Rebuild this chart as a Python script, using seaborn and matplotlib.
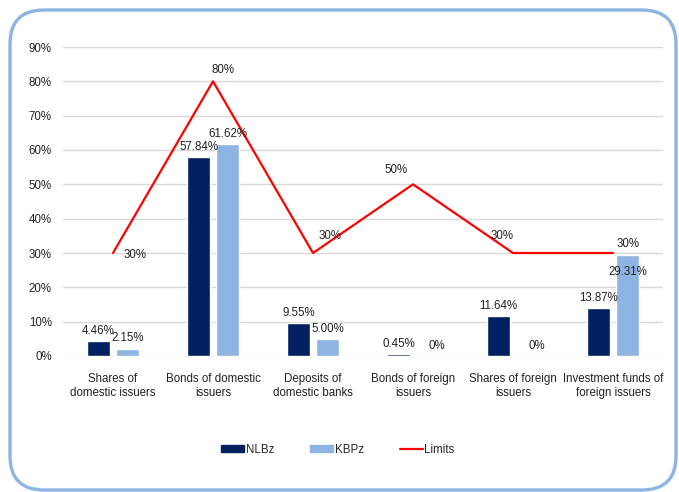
import pandas as pd
import numpy as np
import seaborn as sns
import matplotlib.pyplot as plt
from matplotlib.patches import FancyBboxPatch
from matplotlib.lines import Line2D
from matplotlib.patches import Patch


categories = ["Shares of\ndomestic issuers", "Bonds of domestic\nissuers", "Deposits of\ndomestic banks",
              "Bonds of foreign\nissuers", "Shares of foreign\nissuers", "Investment funds of\nforeign issuers"]
nlbz = [4.46, 57.84, 9.55, 0.45, 11.64, 13.87]
kbpz = [2.15, 61.62, 5.00, 0.0, 0.0, 29.31]
limits = [30, 80, 30, 50, 30, 30]
y_ticks = [0, 10, 20, 30, 40, 50, 60, 70, 80, 90]

sns.set_theme(style="white")
plt.rcParams['font.family'] = ['Liberation Sans', 'DejaVu Sans']

data = pd.DataFrame({
    "category": categories * 2,
    "fund": ["NLBz"] * 6 + ["KBPz"] * 6,
    "value": nlbz + kbpz,
})

fig = plt.figure(figsize=(6.79, 4.92), dpi=100)
ax = fig.add_axes([63 / 679, 1 - 356 / 492, 600 / 679, 309 / 492])

colors = {"NLBz": "#002060", "KBPz": "#8EB4E3"}
sns.barplot(data=data, x="category", y="value", hue="fund", palette=colors,
            width=0.58, gap=0.2, saturation=1, legend=False, ax=ax)

x = np.arange(len(categories))
sns.lineplot(x=x, y=limits, color="#FF0000", linewidth=1.6, ax=ax)

# bar value labels
for cont, vals in zip(ax.containers, [nlbz, kbpz]):
    labs = ax.bar_label(cont, labels=[f"{v:.2f}%" if v > 0 else "0%" for v in vals],
                        padding=3, fontsize=8.3, color="#222222")
    for lab, v in zip(labs, vals):
        if v == 0:
            lab.xyann = (7, 3)
    if vals is kbpz:
        labs[-1].xyann = (0, -16)

# limit labels
offsets = [(16, -6), (7, 4), (12, 8), (-12, 6), (-8, 8), (11, 2)]
for xi, v, off in zip(x, limits, offsets):
    ax.annotate(f"{v}%", (xi, v), xytext=off, textcoords="offset points",
                ha="center", va="bottom", fontsize=8.3, color="#222222")

ax.set_xlim(-0.5, 5.5)
ax.set_ylim(0, 90)
ax.set_yticks(y_ticks)
ax.set_yticklabels([f"{t}%" for t in y_ticks], fontsize=8.3, color="#222222")
ax.set_xticks(x)
ax.set_xticklabels(categories, fontsize=8.3, color="#222222", linespacing=1.25)
ax.tick_params(axis="both", length=0, pad=8)
ax.tick_params(axis="x", pad=12)
ax.grid(axis="y", color="#D9D9D9", linewidth=1)
ax.set_axisbelow(True)
ax.set_xlabel("")
ax.set_ylabel("")
for s in ax.spines.values():
    s.set_visible(False)

handles = [Patch(color=colors["NLBz"]), Patch(color=colors["KBPz"]),
           Line2D([0], [0], color="#FF0000", linewidth=1.6)]
fig.legend(handles, ["NLBz", "KBPz", "Limits"], loc="center", bbox_to_anchor=(338 / 679, 1 - 450 / 492),
           ncol=3, frameon=False, fontsize=8.3, handlelength=2.0, handleheight=0.55,
           handletextpad=0.15, columnspacing=3.1)

frame = FancyBboxPatch((0.10, 0.02), 6.66, 4.80, boxstyle="round,pad=0,rounding_size=0.34",
                       transform=fig.dpi_scale_trans, facecolor="none", edgecolor="#8DB4E2",
                       linewidth=2.4)
fig.patches.append(frame)

fig.savefig("out.png", dpi=100)
